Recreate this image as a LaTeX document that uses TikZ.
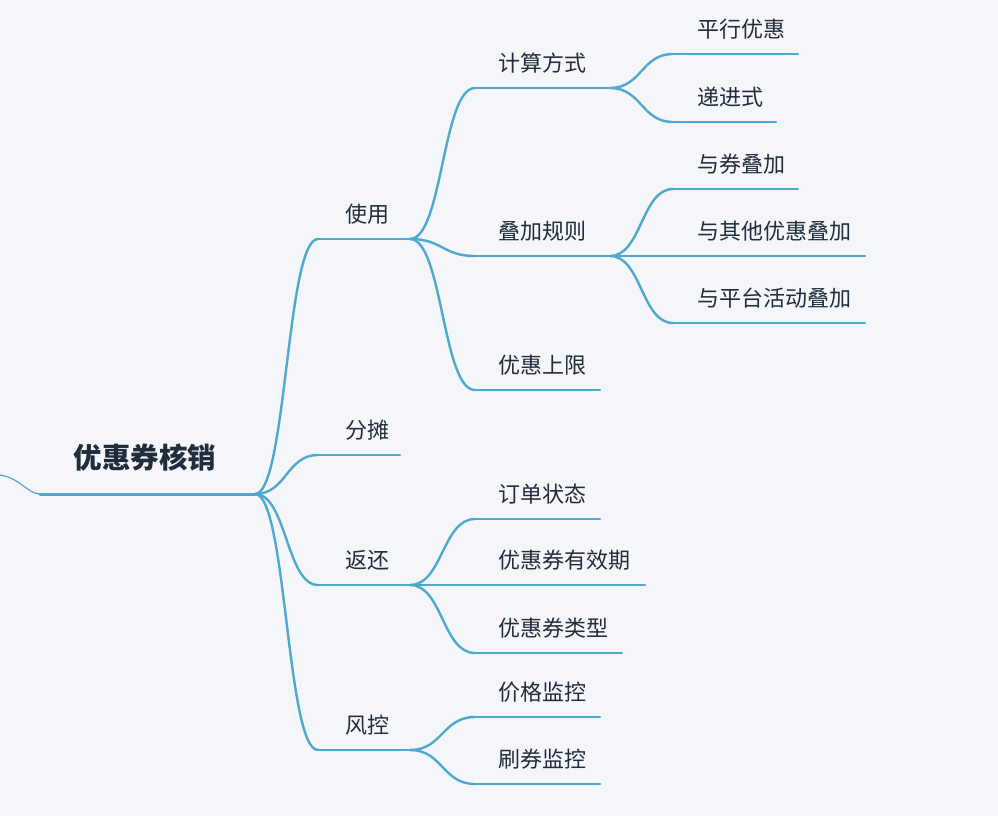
\documentclass[tikz,border=0pt]{standalone}
\usepackage{fontspec}
\usetikzlibrary{calc}
\setmainfont{Noto Sans CJK SC}
\definecolor{bg}{HTML}{F5F6F9}
\definecolor{ln}{HTML}{4FA8D0}
\definecolor{tx}{HTML}{1F2D3D}
\begin{document}
\begin{tikzpicture}[x=1pt,y=-1pt,
  br/.style={draw=ln,line width=2.4pt,line cap=round},
  lbl/.style={anchor=west,inner sep=0pt,text=tx,font=\fontsize{22}{25}\selectfont},
  root/.style={inner sep=0pt,text=tx,font=\fontsize{28.5}{32}\selectfont\bfseries}]
\fill[bg] (0,0) rectangle (998,816);
\useasboundingbox (0,0) rectangle (998,816);
\def\curve#1#2{\coordinate (mm) at ($(#1)!0.5!(#2)$); \draw[br] (#1) .. controls (mm |- #1) and (mm |- #2) .. (#2);}
% root
\coordinate (rl) at (40,494); \coordinate (r) at (255,494);
\coordinate (edge) at (0,475);
\draw[br,line width=1.2pt] (edge) .. controls (20,478) and (28,494) .. (rl);
\draw[br,line width=3pt] (rl) -- (r);
\node[root] (rt) at (145,458) {优惠券核销};
% level 1
\foreach \n/\t/\y/\e in {a/使用/239/410,b/分摊/455/400,c/返还/585/410,d/风控/750/410}{
  \coordinate (\n s) at (318,\y); \coordinate (\n) at (\e,\y);
  \curve{r}{\n s}
  \draw[br] (\n s) -- (\n);
  \node[lbl] (\n t) at (345,\y-25) {\t};
}
% level 2
\foreach \p/\n/\t/\y/\e in {a/aa/计算方式/88/610,a/ab/叠加规则/256/610,a/ac/优惠上限/390/600,
  c/ca/订单状态/519/600,c/cb/优惠券有效期/585/645,c/cc/优惠券类型/653/622,
  d/da/价格监控/717/600,d/db/刷券监控/784/600}{
  \coordinate (\n s) at (475,\y); \coordinate (\n) at (\e,\y);
  \curve{\p}{\n s}
  \draw[br] (\n s) -- (\n);
  \node[lbl] (\n t) at (498,\y-25) {\t};
}
% level 3
\foreach \p/\n/\t/\y/\e in {aa/aaa/平行优惠/54/798,aa/aab/递进式/122/776,
  ab/aba/与券叠加/189/798,ab/abb/与其他优惠叠加/256/865,ab/abc/与平台活动叠加/323/865}{
  \coordinate (\n s) at (673,\y); \coordinate (\n) at (\e,\y);
  \curve{\p}{\n s}
  \draw[br] (\n s) -- (\n);
  \node[lbl] (\n t) at (697,\y-25) {\t};
}
\end{tikzpicture}
\end{document}
